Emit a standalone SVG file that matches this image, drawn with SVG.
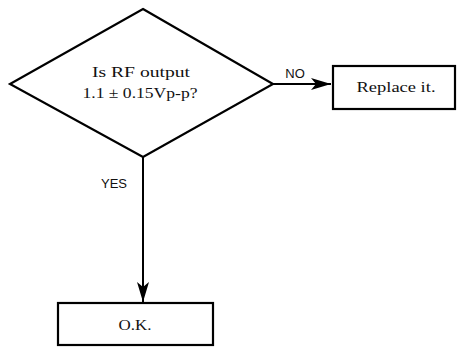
<svg xmlns="http://www.w3.org/2000/svg" width="457" height="347" viewBox="0 0 457 347">
<style>
.shape{fill:#fff;stroke:#000;stroke-width:2.2}
.edge{fill:none;stroke:#000;stroke-width:2}
.t{font-family:"Liberation Serif","DejaVu Serif",serif;font-size:15px;fill:#111;text-anchor:middle}
.lbl{font-family:"Liberation Sans","DejaVu Sans",sans-serif;font-size:13px;fill:#111;text-anchor:middle}
</style>
<defs>
<marker id="arr" viewBox="0 0 20 12" refX="20" refY="6" markerWidth="20" markerHeight="12" markerUnits="userSpaceOnUse" orient="auto">
<path d="M0,0 L20,6 L0,12 L5,6 Z" fill="#000"/>
</marker>
</defs>
<rect width="457" height="347" fill="#fff"/>
<g id="connectors">
<path class="edge" d="M273,84 H331" marker-end="url(#arr)"/>
<text class="lbl" x="295" y="78">NO</text>
<path class="edge" d="M143,157 V302" marker-end="url(#arr)"/>
<text class="lbl" x="114" y="188">YES</text>
</g>
<g id="decision">
<polygon class="shape" points="143,9 273,84 143,157 10,84"/>
<text class="t" x="141" y="77" textLength="98" lengthAdjust="spacingAndGlyphs">Is RF output</text>
<text class="t" x="140" y="98" textLength="115" lengthAdjust="spacingAndGlyphs">1.1 ± 0.15Vp-p?</text>
</g>
<g id="replace">
<rect class="shape" x="333" y="66" width="122" height="43"/>
<text class="t" x="396" y="92" textLength="79" lengthAdjust="spacingAndGlyphs">Replace it.</text>
</g>
<g id="ok">
<rect class="shape" x="58" y="303" width="155" height="42"/>
<text class="t" x="135" y="330" textLength="33" lengthAdjust="spacingAndGlyphs">O.K.</text>
</g>
</svg>
